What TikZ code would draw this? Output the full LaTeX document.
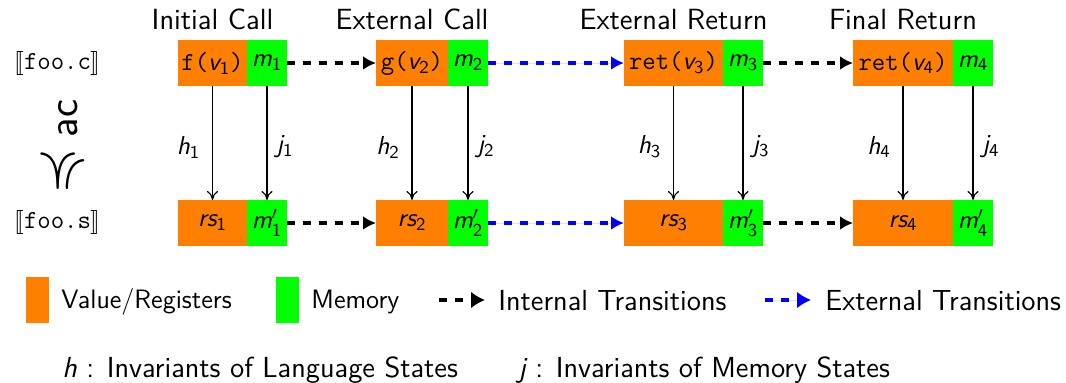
\documentclass[tikz,border=0pt]{standalone}
\usepackage{amssymb}
\usepackage{stmaryrd}
\usetikzlibrary{arrows.meta,calc}
\definecolor{regorange}{RGB}{255,128,0}
\definecolor{memgreen}{RGB}{0,255,0}
\definecolor{extblue}{RGB}{0,0,255}

% sans-serif math letters and digits
\DeclareSymbolFont{sfit}{TU}{lmss}{m}{sl}
\DeclareSymbolFont{sfup}{TU}{lmss}{m}{n}
\DeclareMathSymbol{h}{\mathalpha}{sfit}{`h}
\DeclareMathSymbol{j}{\mathalpha}{sfit}{`j}
\DeclareMathSymbol{m}{\mathalpha}{sfit}{`m}
\DeclareMathSymbol{r}{\mathalpha}{sfit}{`r}
\DeclareMathSymbol{s}{\mathalpha}{sfit}{`s}
\DeclareMathSymbol{v}{\mathalpha}{sfit}{`v}
\DeclareMathSymbol{1}{\mathalpha}{sfup}{`1}
\DeclareMathSymbol{2}{\mathalpha}{sfup}{`2}
\DeclareMathSymbol{3}{\mathalpha}{sfup}{`3}
\DeclareMathSymbol{4}{\mathalpha}{sfup}{`4}

\begin{document}
\begin{tikzpicture}[x=0.5pt,y=-0.5pt,
  cell/.style={inner sep=0pt,outer sep=0pt,minimum height=23pt,anchor=north west,
    font=\fontsize{13}{15}\selectfont},
  reg/.style={cell,fill=regorange},
  mem/.style={cell,fill=memgreen,minimum width=20pt},
  title/.style={anchor=base,font=\fontsize{14.6}{17}\selectfont},
  inv/.style={-{To[length=4.5pt,width=5.5pt]},line width=0.55pt},
  trans/.style={line width=2.3pt,dash pattern=on 4pt off 4pt,
    -{Latex[length=6.5pt,width=7pt]}},
  keytrans/.style={line width=2.3pt,dash pattern=on 4pt off 4pt,
    -{Latex[length=7pt,width=8.5pt]}},
  intern/.style={trans,draw=black},
  extern/.style={trans,draw=extblue,fill=extblue},
  lbl/.style={font=\fontsize{13}{15}\selectfont},
  rowlbl/.style={font=\fontsize{13}{15}\selectfont},
  legend/.style={anchor=base west,inner sep=0pt,font=\fontsize{14.5}{17}\selectfont},
  swatchtxt/.style={legend,font=\fontsize{13.3}{16}\selectfont},
  swatch/.style={inner sep=0pt,outer sep=0pt,minimum width=11.5pt,minimum height=23pt,anchor=north west}
]
\sffamily
\useasboundingbox (0,0) rectangle (1066,382);

% row labels
\node[rowlbl] (srcrow) at (57.5,63) {$\llbracket$\texttt{foo.c}$\rrbracket$};
\node[rowlbl] (asmrow) at (57.5,222) {$\llbracket$\texttt{foo.s}$\rrbracket$};
\node[rotate=90,inner sep=0pt,font=\fontsize{30}{30}\selectfont] (relsym) at (60,171) {$\preccurlyeq$};
\node[rotate=90,inner sep=0pt,font=\fontsize{21.5}{24}\selectfont] (relname) at (68.5,118.5) {ac};

% source states
\node[reg,minimum width=34.5pt] (f1) at (178,40) {\texttt{f(}$v_1$\texttt{)}};
\node[mem] (m1) at (f1.north east) {$m_1$};
\node[reg,minimum width=36pt] (f2) at (376,40) {\texttt{g(}$v_2$\texttt{)}};
\node[mem] (m2) at (f2.north east) {$m_2$};
\node[reg,minimum width=49.5pt] (f3) at (624,40) {\texttt{ret(}$v_3$\texttt{)}};
\node[mem] (m3) at (f3.north east) {$m_3$};
\node[reg,minimum width=50pt] (f4) at (853,40) {\texttt{ret(}$v_4$\texttt{)}};
\node[mem] (m4) at (f4.north east) {$m_4$};

% assembly states
\node[reg,minimum width=34.5pt] (r1) at (178,200) {$rs_1$};
\node[mem] (n1) at (r1.north east) {$m'_1$};
\node[reg,minimum width=36pt] (r2) at (376,200) {$rs_2$};
\node[mem] (n2) at (r2.north east) {$m'_2$};
\node[reg,minimum width=49.5pt] (r3) at (624,200) {$rs_3$};
\node[mem] (n3) at (r3.north east) {$m'_3$};
\node[reg,minimum width=50pt] (r4) at (853,200) {$rs_4$};
\node[mem] (n4) at (r4.north east) {$m'_4$};

% column titles
\node[title] (t1) at ($(f1.north)+(0,-11)$) {Initial Call};
\node[title] (t2) at ($(f2.north)+(0,-11)$) {External Call};
\node[title] (t3) at ($(f3.north)+(0,-11)$) {External Return};
\node[title] (t4) at ($(f4.north)+(0,-11)$) {Final Return};

% invariants
\foreach \i in {1,2,3,4}{
  \draw[inv] (f\i) -- (r\i);
  \draw[inv] (m\i) -- (n\i);
  \node[lbl] (h\i) at ($(f\i.south)!0.5!(r\i.north)+(-24,4)$) {$h_{\i}$};
  \node[lbl] (j\i) at ($(m\i.south)!0.5!(n\i.north)+(18,4)$) {$j_{\i}$};
}

% transitions
\draw[intern] (m1) -- (f2);
\draw[extern] (m2) -- (f3);
\draw[intern] (m3) -- (f4);
\draw[intern] (n1) -- (r2);
\draw[extern] (n2) -- (r3);
\draw[intern] (n3) -- (r4);

% legend
\node[swatch,fill=regorange] (keyreg) at (26,277) {};
\node[swatchtxt] (keyregtxt) at (61,308) {Value/Registers};
\node[swatch,fill=memgreen] (keymem) at (276,277) {};
\node[swatchtxt] (keymemtxt) at (311,308) {Memory};
\coordinate (kia) at (439,300);
\coordinate (kib) at (485,300);
\draw[keytrans,draw=black] (kia) -- (kib);
\node[legend] (kinttxt) at (498,310) {Internal Transitions};
\coordinate (kea) at (765,300);
\coordinate (keb) at (811,300);
\draw[keytrans,draw=extblue,fill=extblue] (kea) -- (keb);
\node[legend] (kexttxt) at (825,310) {External Transitions};
\node[legend] (keyh) at (62,377) {$h$ : Invariants of Language States};
\node[legend] (keyj) at (518,377) {$j$ : Invariants of Memory States};
\end{tikzpicture}
\end{document}
